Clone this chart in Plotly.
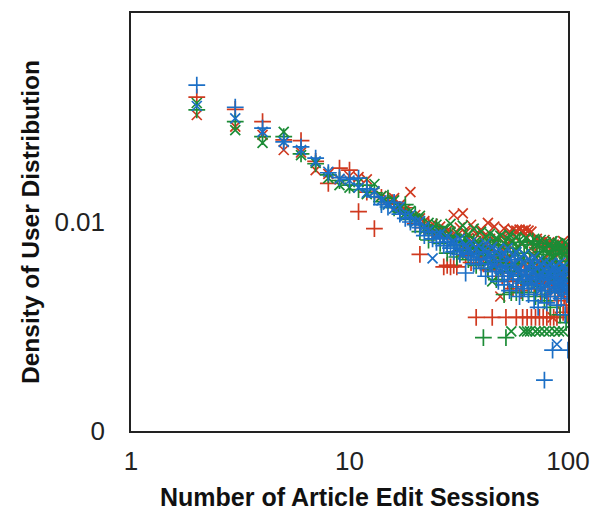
import plotly.graph_objects as go

sessions = list(range(2, 101))

red_plus = [0.0396, 0.0346, 0.0302, 0.0247, 0.0245, 0.0195, 0.0153, 0.0181, 0.0177, 0.0112,
            0.0139, 0.0093, 0.0131, 0.0127, 0.0122, 0.0115, 0.0117, 0.0104, 0.0098, 0.0070,
            0.0094, 0.0096, 0.0088, 0.0091, 0.0086, 0.0061, 0.0062, 0.0061, 0.0062, 0.0061,
            0.0078, 0.0074, 0.0069, 0.0076, 0.0064, 0.0072, 0.0035, 0.0066, 0.0071, 0.0063,
            0.0068, 0.0059, 0.0073, 0.0035, 0.0065, 0.0058, 0.0067, 0.0062, 0.0055, 0.0069,
            0.0035, 0.0052, 0.0064, 0.0057, 0.0048, 0.0061, 0.0035, 0.0053, 0.0058, 0.0047,
            0.0035, 0.0062, 0.0055, 0.0035, 0.0050, 0.0064, 0.0035, 0.0056, 0.0048, 0.0035,
            0.0059, 0.0052, 0.0035, 0.0045, 0.0061, 0.0035, 0.0051, 0.0056, 0.0035, 0.0044,
            0.0058, 0.0035, 0.0049, 0.0053, 0.0035, 0.0046, 0.0060, 0.0035, 0.0042, 0.0055,
            0.0036, 0.0048, 0.0052, 0.0037, 0.0044, 0.0057, 0.0040, 0.0050, 0.0036]

red_x = [0.0325, 0.0286, 0.0261, 0.0221, 0.0215, 0.0177, 0.0170, 0.0160, 0.0166, 0.0164,
         0.0160, 0.0140, 0.0133, 0.0128, 0.0130, 0.0121, 0.0115, 0.0139, 0.0108, 0.0104,
         0.0101, 0.0093, 0.0098, 0.0089, 0.0095, 0.0087, 0.0091, 0.0090, 0.0108, 0.0086,
         0.0094, 0.0110, 0.0089, 0.0084, 0.0097, 0.0082, 0.0088, 0.0079, 0.0092, 0.0085,
         0.0077, 0.0099, 0.0083, 0.0074, 0.0095, 0.0080, 0.0070, 0.0044, 0.0086, 0.0093,
         0.0078, 0.0068, 0.0090, 0.0081, 0.0092, 0.0073, 0.0091, 0.0065, 0.0092, 0.0079,
         0.0091, 0.0070, 0.0092, 0.0084, 0.0091, 0.0062, 0.0090, 0.0076, 0.0072, 0.0068,
         0.0083, 0.0059, 0.0079, 0.0080, 0.0066, 0.0074, 0.0082, 0.0055, 0.0077, 0.0063,
         0.0080, 0.0071, 0.0052, 0.0035, 0.0078, 0.0067, 0.0074, 0.0058, 0.0079, 0.0062,
         0.0076, 0.0048, 0.0073, 0.0081, 0.0060, 0.0077, 0.0050, 0.0075, 0.0068]

green_plus = [0.0344, 0.0302, 0.0256, 0.0256, 0.0212, 0.0190, 0.0168, 0.0158, 0.0150, 0.0143,
              0.0150, 0.0138, 0.0125, 0.0130, 0.0117, 0.0112, 0.0121, 0.0103, 0.0108, 0.0090,
              0.0097, 0.0082, 0.0088, 0.0095, 0.0079, 0.0084, 0.0071, 0.0086, 0.0077, 0.0068,
              0.0081, 0.0073, 0.0085, 0.0066, 0.0074, 0.0080, 0.0062, 0.0071, 0.0076, 0.0028,
              0.0069, 0.0060, 0.0082, 0.0064, 0.0070, 0.0053, 0.0078, 0.0061, 0.0067, 0.0045,
              0.0028, 0.0072, 0.0058, 0.0046, 0.0075, 0.0063, 0.0046, 0.0069, 0.0080, 0.0055,
              0.0046, 0.0071, 0.0059, 0.0078, 0.0046, 0.0066, 0.0052, 0.0081, 0.0061, 0.0044,
              0.0070, 0.0057, 0.0079, 0.0049, 0.0064, 0.0072, 0.0042, 0.0060, 0.0076, 0.0054,
              0.0067, 0.0039, 0.0073, 0.0058, 0.0070, 0.0047, 0.0078, 0.0061, 0.0053, 0.0074,
              0.0036, 0.0065, 0.0071, 0.0050, 0.0076, 0.0059, 0.0033, 0.0068, 0.0062]

green_x = [0.0371, 0.0275, 0.0239, 0.0270, 0.0209, 0.0192, 0.0162, 0.0150, 0.0146, 0.0155,
           0.0136, 0.0152, 0.0133, 0.0122, 0.0127, 0.0116, 0.0110, 0.0113, 0.0104, 0.0107,
           0.0092, 0.0099, 0.0094, 0.0097, 0.0090, 0.0093, 0.0086, 0.0098, 0.0084, 0.0089,
           0.0079, 0.0096, 0.0083, 0.0087, 0.0076, 0.0093, 0.0081, 0.0074, 0.0090, 0.0078,
           0.0085, 0.0071, 0.0088, 0.0052, 0.0080, 0.0084, 0.0068, 0.0086, 0.0076, 0.0079,
           0.0065, 0.0083, 0.0087, 0.0030, 0.0081, 0.0059, 0.0085, 0.0075, 0.0082, 0.0066,
           0.0079, 0.0030, 0.0084, 0.0030, 0.0073, 0.0030, 0.0080, 0.0061, 0.0083, 0.0030,
           0.0077, 0.0069, 0.0030, 0.0082, 0.0058, 0.0074, 0.0030, 0.0080, 0.0064, 0.0071,
           0.0030, 0.0078, 0.0055, 0.0081, 0.0068, 0.0030, 0.0075, 0.0062, 0.0079, 0.0030,
           0.0072, 0.0057, 0.0077, 0.0030, 0.0070, 0.0080, 0.0053, 0.0073, 0.0078]

blue_plus = [0.0452, 0.0354, 0.0281, 0.0242, 0.0229, 0.0202, 0.0172, 0.0163, 0.0160, 0.0162,
             0.0144, 0.0132, 0.0121, 0.0118, 0.0124, 0.0109, 0.0104, 0.0100, 0.0097, 0.0094,
             0.0086, 0.0090, 0.0083, 0.0080, 0.0084, 0.0077, 0.0080, 0.0075, 0.0072, 0.0078,
             0.0070, 0.0074, 0.0057, 0.0071, 0.0068, 0.0063, 0.0070, 0.0066, 0.0060, 0.0072,
             0.0055, 0.0067, 0.0063, 0.0058, 0.0069, 0.0061, 0.0052, 0.0065, 0.0057, 0.0050,
             0.0062, 0.0055, 0.0047, 0.0060, 0.0053, 0.0066, 0.0049, 0.0056, 0.0044, 0.0059,
             0.0051, 0.0048, 0.0057, 0.0053, 0.0045, 0.0055, 0.0050, 0.0061, 0.0042, 0.0054,
             0.0048, 0.0039, 0.0056, 0.0050, 0.0045, 0.0053, 0.00175, 0.0047, 0.0041, 0.0055,
             0.0049, 0.0044, 0.0058, 0.00244, 0.0051, 0.0046, 0.0054, 0.0040, 0.0052, 0.0048,
             0.0056, 0.0043, 0.0050, 0.0047, 0.0053, 0.0036, 0.0049, 0.0045, 0.00244]

blue_x = [0.0359, 0.0313, 0.0270, 0.0242, 0.0221, 0.0195, 0.0174, 0.0161, 0.0158, 0.0146,
          0.0138, 0.0140, 0.0127, 0.0121, 0.0116, 0.0118, 0.0107, 0.0108, 0.0100, 0.0101,
          0.0095, 0.0091, 0.0067, 0.0087, 0.0088, 0.0082, 0.0085, 0.0079, 0.0081, 0.0076,
          0.0083, 0.0070, 0.0078, 0.0074, 0.0080, 0.0069, 0.0075, 0.0077, 0.0065, 0.0073,
          0.0079, 0.0064, 0.0070, 0.0076, 0.0062, 0.0072, 0.0074, 0.0058, 0.0068, 0.0071,
          0.0060, 0.0075, 0.0066, 0.0055, 0.0069, 0.0063, 0.0072, 0.0059, 0.0067, 0.0053,
          0.0064, 0.0070, 0.0057, 0.0061, 0.0066, 0.0052, 0.0063, 0.0058, 0.0068, 0.0050,
          0.0060, 0.0065, 0.0055, 0.0062, 0.0048, 0.0059, 0.0064, 0.0053, 0.0061, 0.0057,
          0.0056, 0.0063, 0.0051, 0.0058, 0.0060, 0.0047, 0.0062, 0.0026, 0.0059, 0.0052,
          0.0064, 0.0057, 0.0049, 0.0061, 0.0054, 0.0058, 0.0046, 0.0060, 0.0056]

x_tick_vals = [1, 10, 100]
x_tick_text = ["1", "10", "100"]
y_tick_vals = [0.001, 0.01]
y_tick_text = ["0", "0.01"]

RED = "#D0391F"
GREEN = "#1C8C36"
BLUE = "#1B6FC6"

series = [
    ("Red +", red_plus, RED, "cross-thin-open", 12),
    ("Red x", red_x, RED, "x-thin-open", 10),
    ("Green +", green_plus, GREEN, "cross-thin-open", 12),
    ("Green x", green_x, GREEN, "x-thin-open", 10),
    ("Blue +", blue_plus, BLUE, "cross-thin-open", 12),
    ("Blue x", blue_x, BLUE, "x-thin-open", 10),
]

fig = go.Figure()
for name, vals, color, symbol, size in series:
    fig.add_trace(go.Scatter(
        x=sessions, y=vals, mode="markers", name=name,
        marker=dict(symbol=symbol, size=size, color=color,
                    line=dict(color=color, width=1.7)),
        showlegend=False,
    ))

axis_common = dict(showline=True, linecolor="#222222", linewidth=1.5, mirror=True,
                   showgrid=False, zeroline=False, automargin=False,
                   ticks="outside", tickcolor="rgba(0,0,0,0)",
                   tickfont=dict(family="Liberation Sans, Arial, sans-serif", size=26, color="#222222"))

fig.update_xaxes(type="log", range=[0, 2], tickvals=x_tick_vals, ticktext=x_tick_text,
                 ticklen=6, **axis_common)
fig.update_yaxes(type="log", range=[-3, -1], tickvals=y_tick_vals, ticktext=y_tick_text,
                 ticklen=19, **axis_common)

fig.add_annotation(text="<b>Number of Article Edit Sessions</b>", xref="paper", yref="paper",
                   x=0.5, y=0, yanchor="middle", yshift=-66, showarrow=False,
                   font=dict(family="Liberation Sans, Arial, sans-serif", size=25, color="#111111"))
fig.add_annotation(text="<b>Density of User Distribution</b>", xref="paper", yref="paper",
                   x=0, y=0.5, xanchor="center", xshift=-101, textangle=-90,
                   showarrow=False,
                   font=dict(family="Liberation Sans, Arial, sans-serif", size=24.5, color="#111111"))

fig.update_layout(width=594, height=517, margin=dict(l=131, r=26, t=13, b=86),
                  plot_bgcolor="white", paper_bgcolor="white")

fig.write_html("out.html", config={"displayModeBar": False},
               post_script="document.body.style.margin='0';document.body.style.overflow='hidden';")
